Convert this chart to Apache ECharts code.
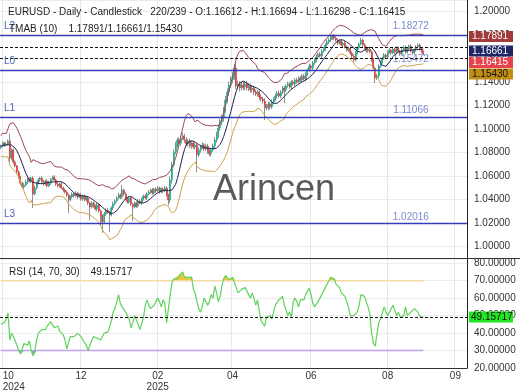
<!DOCTYPE html>
<html><head><meta charset="utf-8">
<script src="https://cdn.jsdelivr.net/npm/echarts@6/dist/echarts.min.js"></script>
<style>html,body{margin:0;padding:0;background:#fff}#c{width:520px;height:390px}</style>
</head><body><div id="c"></div>
<script>
// ---------- data ----------
const firstOpen = 1.0845;
const closes = [
1.0857,1.0883,1.0866,1.0874,1.0900,1.0755,1.0823,1.0721,1.0687,1.0636,
1.0593,1.0542,1.0508,1.0525,1.0551,1.0576,1.0559,1.0585,1.0449,1.0500,
1.0542,1.0568,1.0585,1.0551,1.0534,1.0559,1.0517,1.0542,1.0576,1.0593,
1.0568,1.0534,1.0517,1.0534,1.0500,1.0483,1.0466,1.0440,1.0398,1.0423,
1.0449,1.0432,1.0457,1.0423,1.0440,1.0406,1.0432,1.0398,1.0415,1.0372,
1.0338,1.0372,1.0347,1.0321,1.0355,1.0304,1.0261,1.0210,1.0278,1.0312,
1.0295,1.0270,1.0329,1.0364,1.0389,1.0415,1.0440,1.0423,1.0483,1.0449,
1.0406,1.0381,1.0415,1.0364,1.0338,1.0372,1.0347,1.0389,1.0372,1.0406,
1.0432,1.0415,1.0449,1.0466,1.0483,1.0457,1.0491,1.0474,1.0500,1.0466,
1.0491,1.0474,1.0500,1.0440,1.0398,1.0568,1.0696,1.0806,1.0866,1.0908,
1.0883,1.0925,1.0942,1.0908,1.0874,1.0900,1.0857,1.0883,1.0849,1.0866,
1.0781,1.0823,1.0849,1.0866,1.0832,1.0857,1.0815,1.0789,1.0823,1.0857,
1.0908,1.0951,1.1010,1.1061,1.1095,1.1164,1.1249,1.1317,1.1376,1.1419,
1.1453,1.1521,1.1368,1.1385,1.1351,1.1376,1.1359,1.1385,1.1351,1.1368,
1.1334,1.1351,1.1317,1.1300,1.1317,1.1274,1.1257,1.1240,1.1197,1.1180,
1.1215,1.1189,1.1232,1.1257,1.1283,1.1308,1.1283,1.1317,1.1351,1.1334,
1.1368,1.1385,1.1359,1.1402,1.1385,1.1419,1.1402,1.1436,1.1419,1.1453,
1.1427,1.1470,1.1504,1.1538,1.1521,1.1563,1.1589,1.1615,1.1640,1.1623,
1.1666,1.1683,1.1717,1.1742,1.1759,1.1776,1.1793,1.1776,1.1759,1.1734,
1.1751,1.1717,1.1734,1.1700,1.1674,1.1691,1.1649,1.1623,1.1589,1.1649,
1.1691,1.1725,1.1759,1.1717,1.1691,1.1666,1.1683,1.1657,1.1589,1.1521,
1.1436,1.1453,1.1538,1.1572,1.1606,1.1632,1.1615,1.1657,1.1674,1.1649,
1.1683,1.1657,1.1691,1.1666,1.1640,1.1674,1.1700,1.1657,1.1683,1.1708,
1.1666,1.1649,1.1674,1.1700,1.1717,1.1683,1.16612,1.16415
];
// wick lengths above / below the body, in pips
const upWickPips = [
12,15,10,18,14,60,16,12,18,10, 14,10,12,16,20,12,15,10,14,18,
12,16,10,14,18,12,15,20,10,14, 16,12,14,10,18,12,15,14,12,16,
14,10,16,12,14,18,10,12,16,14, 12,16,14,10,18,14,12,16,18,14,
16,12,14,18,12,16,20,14,42,12, 14,18,12,16,10,14,12,18,16,14,
12,16,14,18,12,16,10,14,18,12, 16,12,18,14,12,30,25,22,28,20,
22,18,26,20,24,18,22,16,20,18, 20,24,18,22,16,20,18,22,16,20,
24,28,30,26,32,28,35,30,28,32, 30,34,42,28,24,30,26,22,28,24,
22,26,20,24,18,22,26,20,24,18, 20,18,22,16,20,18,22,16,20,18,
16,20,18,14,18,16,20,14,18,16, 18,14,16,20,14,18,16,20,14,18,
16,18,14,20,16,18,14,17,16,14, 14,16,12,18,14,16,12,14,16,18,
16,14,18,12,16,14,12,16,14,18, 14,18,16,12,14,16,12,14,16,12,
14,12,16,14,12,16,14,12,16,14, 16,14,12,16,14,12,10,8.2
];
const downWickPips = [
14,10,16,12,15,34,20,14,12,18, 16,20,12,14,10,18,12,16,120,14,
14,12,18,10,16,14,12,10,16,12, 12,18,14,16,10,20,14,18,111,12,
16,14,12,18,10,14,16,12,14,18, 111,14,16,12,18,16,85,93,14,16,
14,145,12,16,14,12,10,18,14,16, 12,14,16,18,119,12,16,14,10,16,
14,12,18,10,16,14,12,16,10,14, 12,16,10,14,43,25,30,20,18,22,
20,24,18,22,16,20,18,24,16,20, 145,18,22,16,20,18,25,18,22,16,
20,22,26,24,28,30,25,28,30,26, 28,30,26,24,30,22,26,28,22,26,
24,20,26,18,22,24,20,22,119,20, 18,22,16,20,18,22,16,20,18,111,
18,14,16,20,14,18,16,14,18,16, 14,18,16,14,18,16,14,18,16,14,
18,14,16,14,18,16,14,18,14,16, 16,14,18,12,16,14,18,16,14,12,
14,16,12,18,14,16,14,12,18,16, 43,16,14,18,12,14,16,12,14,16,
12,16,14,12,16,14,12,16,14,12, 14,12,16,14,12,16,12,11.7
];
const rsi = [
45,45,46,48,51.5,36,40,38,37,33, 30,28,31,34,35,33,35.5,30,27,29,
36,40,41,42,43,42,44,45,46.5,46, 43,42,44,41,40,39,36,31,35,38,
39,38,38,40,41,38,36,36.5,33,30, 31,36,38,39,37,38,36,38,40,40,
40.5,40,47,52,54,58,62,57,55,54, 52,51,48,43,46,50,49,45,42,41,
49,56,59,56,54,53,56,58,60,58, 55,59,57,46,45,62,69,71,72,71,
73,74,75,72,71.5,72,71,72,65,63, 58,54,52,55,60,61,56,58,62,60,
67,63,58,61,67,71,73,72,70.5,70, 72,73,66,63,64,65,66,66,64,62,
60,63,60,56,59,52,47,46,44,49, 49,50,48,52,56,57,59,60,61,56,
55,50,52,49,58,60,58,55,59,58, 59,62,64,65.6,62,57,55,56,58,60,
59,64,66,68,70,72,73,71,68,67, 66,63,62,61,58,55,50,49,50,50,
52,56,62,63,61,58,55,51,40,34, 32.5,33,46,48,49,55,52,50,51,54,
56,53,50,52,49,48,50,55,50,51, 52,53,54,55,52,49.5,50,49.15717
];
const totalSlots = 262;                       // bars + empty future slots
const monthTickIndex  = [1, 45, 88, 130, 174, 217, 255];
const monthTickLabels = ['10\n2024', '12', '02\n2025', '04', '06', '08', '09'];
const levelNames  = ['L2', 'L0', 'L1', 'L3'];
const levelValues = [1.18272, 1.15472, 1.11066, 1.02016];
const tmabLast = [1.17891, 1.16661, 1.15430];
const rsiLast = 49.15717;
const headerTitle = 'EURUSD - Daily - Candlestick';
const headerCount = '220/239';

// ---------- derived ----------
const n = closes.length;
const opens = closes.map((c, i) => i === 0 ? firstOpen : closes[i - 1]);
const highs = closes.map((c, i) => Math.max(opens[i], c) + upWickPips[i] / 1e4);
const lows  = closes.map((c, i) => Math.min(opens[i], c) - downWickPips[i] / 1e4);
function sma(arr, p) { return arr.map((_, i) => { const s = arr.slice(Math.max(0, i - p + 1), i + 1); return s.reduce((a, b) => a + b, 0) / s.length; }); }
const mid = sma(sma(closes, 6), 5);
const tr = closes.map((c, i) => i === 0 ? highs[i] - lows[i] :
  Math.max(highs[i] - lows[i], Math.abs(highs[i] - closes[i - 1]), Math.abs(lows[i] - closes[i - 1])));
const atr = sma(tr, 12);
const k = ((tmabLast[0] - tmabLast[2]) / 2) / atr[n - 1];
const upper = mid.map((m, i) => m + k * atr[i]);
const lower = mid.map((m, i) => m - k * atr[i]);
const lastClose = closes[n - 1];

const cats = Array.from({ length: totalSlots }, (_, i) => String(i));
const tickSet = new Set(monthTickIndex);
const labelAt = {}; monthTickIndex.forEach((t, j) => labelAt[t] = monthTickLabels[j]);
const xData2 = cats.map((c, i) => i === monthTickIndex[0] ? { value: c, textStyle: { align: 'left' } } : c);

const FONT = '"Liberation Sans", Arial, sans-serif';
const LEVEL_COLOR = '#353cb8';
const chart = echarts.init(document.getElementById('c'), null, { renderer: 'canvas' });

const dashed = (v) => ({ yAxis: v, lineStyle: { color: '#111', type: [3, 2], width: 1 }, label: { show: false } });

chart.setOption({
  animation: false,
  textStyle: { fontFamily: FONT },
  grid: [
    { left: 0, right: 53, top: 0, bottom: 132, containLabel: false, outerBoundsMode: 'none' },
    { left: 0, right: 53, top: 259, bottom: 22, containLabel: false, outerBoundsMode: 'none' }
  ],
  xAxis: [
    { type: 'category', gridIndex: 0, data: cats, boundaryGap: true,
      axisLine: { show: false }, axisTick: { show: false }, axisLabel: { show: false },
      splitLine: { show: true, interval: (i) => tickSet.has(i), lineStyle: { color: '#e8e8e8' } } },
    { type: 'category', gridIndex: 1, data: xData2, boundaryGap: true,
      axisLine: { show: true, lineStyle: { color: '#333' } }, axisTick: { show: false },
      axisLabel: { interval: (i) => tickSet.has(i), formatter: (v, i) => labelAt[i] || '', fontSize: 10, color: '#333', lineHeight: 11, margin: 3 },
      splitLine: { show: true, interval: (i) => tickSet.has(i), lineStyle: { color: '#e8e8e8' } } }
  ],
  yAxis: [
    { type: 'value', gridIndex: 0, position: 'right', min: 0.9904, max: 1.21, splitNumber: 11,
      axisLine: { show: true, lineStyle: { color: '#222' } }, axisTick: { show: false },
      axisLabel: { fontSize: 10, color: '#333', margin: 7, formatter: (v) => v.toFixed(5), showMinLabel: false, showMaxLabel: false },
      splitLine: { lineStyle: { color: '#ececec' } } },
    { type: 'value', gridIndex: 1, position: 'right', min: 20, max: 82.4, splitNumber: 6,
      axisLine: { show: true, lineStyle: { color: '#222' } }, axisTick: { show: false },
      axisLabel: { fontSize: 10, color: '#333', margin: 7, formatter: (v) => v.toFixed(5), showMinLabel: true, showMaxLabel: false, hideOverlap: false },
      splitLine: { lineStyle: { color: '#ececec' } } }
  ],
  series: [
    { name: 'wick', type: 'candlestick', xAxisIndex: 0, yAxisIndex: 0, barWidth: 1,
      data: closes.map((c, i) => [lows[i], lows[i], lows[i], highs[i]]),
      itemStyle: { color: '#909090', color0: '#909090', borderColor: '#909090', borderColor0: '#909090', borderWidth: 1 } },
    { name: 'body', type: 'candlestick', xAxisIndex: 0, yAxisIndex: 0, barWidth: 1.5,
      data: closes.map((c, i) => [opens[i], c, Math.min(opens[i], c), Math.max(opens[i], c)]),
      itemStyle: { color: '#1fae8e', color0: '#e23b3b', borderColor: '#1fae8e', borderColor0: '#e23b3b', borderWidth: 0.6 },
      markLine: { silent: true, symbol: ['none', 'none'], animation: false,
        data: [dashed(tmabLast[0]), dashed(tmabLast[1]), dashed(lastClose), dashed(tmabLast[2])] } },
    { name: 'upper', type: 'line', xAxisIndex: 0, yAxisIndex: 0, data: upper, showSymbol: false, lineStyle: { color: '#9c4654', width: 1 } },
    { name: 'mid', type: 'line', xAxisIndex: 0, yAxisIndex: 0, data: mid, showSymbol: false, lineStyle: { color: '#22224e', width: 1 } },
    { name: 'lower', type: 'line', xAxisIndex: 0, yAxisIndex: 0, data: lower, showSymbol: false, lineStyle: { color: '#c9a24c', width: 1 } },
    { name: 'levelLabels', type: 'scatter', xAxisIndex: 0, yAxisIndex: 0, symbolSize: 0, silent: true,
      itemStyle: { color: LEVEL_COLOR },
      data: levelValues.map((v) => [n - 8, v]),
      label: { show: true, position: 'top', distance: 1, formatter: (p) => p.value[1].toFixed(5), color: '#5a6cc0', fontSize: 10 },
      markLine: { silent: true, symbol: ['none', 'none'], animation: false,
        lineStyle: { color: LEVEL_COLOR, width: 1.4, type: 'solid', opacity: 1 },
        label: { show: true, position: 'insideStartTop', formatter: '{b}', color: '#4d62b8', fontSize: 10, distance: 4 },
        data: levelValues.map((v, i) => ({ name: levelNames[i], yAxis: v, lineStyle: { color: LEVEL_COLOR } })) } },
    // RSI panel
    { name: 'b70', type: 'line', xAxisIndex: 1, yAxisIndex: 1, stack: 'ob', data: rsi.map(() => 70), showSymbol: false, lineStyle: { opacity: 0 } },
    { name: 'o70', type: 'line', xAxisIndex: 1, yAxisIndex: 1, stack: 'ob', data: rsi.map((r) => Math.max(r - 70, 0)), showSymbol: false, lineStyle: { opacity: 0 }, areaStyle: { color: '#efc640', opacity: 1 } },
    { name: 'b30', type: 'line', xAxisIndex: 1, yAxisIndex: 1, stack: 'os', data: rsi.map((r) => Math.min(r, 30)), showSymbol: false, lineStyle: { opacity: 0 } },
    { name: 'u30', type: 'line', xAxisIndex: 1, yAxisIndex: 1, stack: 'os', data: rsi.map((r) => 30 - Math.min(r, 30)), showSymbol: false, lineStyle: { opacity: 0 }, areaStyle: { color: '#8a8fd6', opacity: 1 } },
    { name: 'l70', type: 'line', xAxisIndex: 1, yAxisIndex: 1, data: rsi.map(() => 70), showSymbol: false, lineStyle: { color: '#f3d9a2', width: 1.5 } },
    { name: 'l30', type: 'line', xAxisIndex: 1, yAxisIndex: 1, data: rsi.map(() => 30), showSymbol: false, lineStyle: { color: '#bba2ec', width: 1.5 } },
    { name: 'rsi', type: 'line', xAxisIndex: 1, yAxisIndex: 1, data: rsi, showSymbol: false, lineStyle: { color: '#5fd45c', width: 1.2 },
      markLine: { silent: true, symbol: ['none', 'none'], animation: false, data: [dashed(rsiLast)] } }
  ]
});

// ---------- overlays (texts, tags) ----------
const tf = (size) => size + 'px ' + FONT;
const g = [];
g.push({ type: 'line', z: 50, shape: { x1: 0, y1: 258.5, x2: 520, y2: 258.5 }, style: { stroke: '#333', lineWidth: 1 } });
g.push({ type: 'text', z: 60, x: 8, y: 12, style: { text: headerTitle + '   ' + headerCount + ' - O:' + opens[n - 1].toFixed(5) + ' - H:' + highs[n - 1].toFixed(5) + ' - L:' + lows[n - 1].toFixed(5) + ' - C:' + lastClose.toFixed(5), font: tf(10), fill: '#222', textVerticalAlign: 'middle' } });
g.push({ type: 'text', z: 60, x: 9, y: 29, style: { text: 'TMAB (10)    ' + tmabLast.map((v) => v.toFixed(5)).join('/'), font: tf(10), fill: '#222', textVerticalAlign: 'middle' } });
g.push({ type: 'text', z: 60, x: 9, y: 272, style: { text: 'RSI (14, 70, 30)    ' + rsiLast.toFixed(5), font: tf(10), fill: '#222', textVerticalAlign: 'middle' } });
g.push({ type: 'text', z: 5, x: 274, y: 190, style: { text: 'Arincen', font: tf(36), fill: '#5a5a5a', textAlign: 'center', textVerticalAlign: 'middle' } });

const tags = [
  { v: tmabLast[0], bg: '#a23a3a', fg: '#fff' },
  { v: tmabLast[1], bg: '#1f2566', fg: '#fff' },
  { v: lastClose, bg: '#e8424c', fg: '#fff' },
  { v: tmabLast[2], bg: '#c28f12', fg: '#111' }
].sort((a, b) => b.v - a.v);
let prevY = -1e9;
tags.forEach((t) => {
  let y = chart.convertToPixel({ yAxisIndex: 0 }, t.v);
  if (y < prevY + 11.5) y = prevY + 11.5;
  prevY = y;
  g.push({ type: 'rect', z: 70, shape: { x: 469, y: y - 5.5, width: 44, height: 11 }, style: { fill: t.bg } });
  g.push({ type: 'text', z: 71, x: 472, y: y, style: { text: t.v.toFixed(5), font: tf(10), fill: t.fg, textVerticalAlign: 'middle' } });
});
const ry = chart.convertToPixel({ yAxisIndex: 1 }, rsiLast);
g.push({ type: 'rect', z: 70, shape: { x: 469, y: ry - 5.5, width: 44, height: 11 }, style: { fill: '#22e622' } });
g.push({ type: 'text', z: 71, x: 471, y: ry, style: { text: rsiLast.toFixed(5), font: tf(10), fill: '#111', textVerticalAlign: 'middle' } });

chart.setOption({ graphic: { elements: g } });
</script></body></html>
